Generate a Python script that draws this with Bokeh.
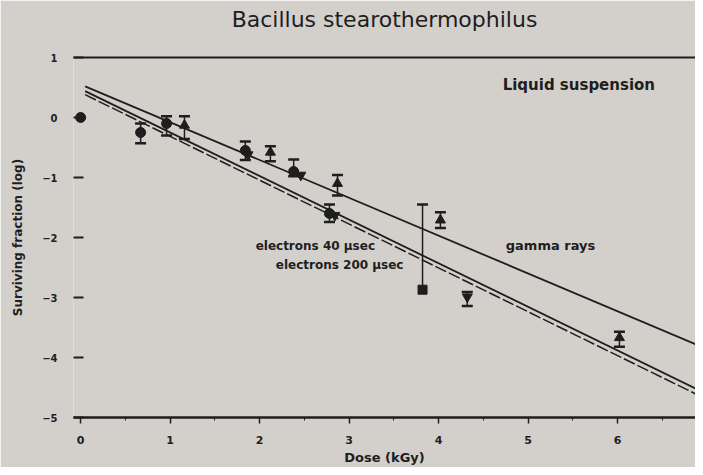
from bokeh.plotting import figure
from bokeh.models import (ColumnDataSource, Whisker, TeeHead, LinearAxis, Label,
                          FixedTicker, Range1d)
from bokeh.embed import file_html
from bokeh.resources import INLINE

# ---------------- data ----------------
title_text = "Bacillus stearothermophilus"
x_label = "Dose (kGy)"
y_label = "Surviving fraction (log)"

x_ticks = [0, 1, 2, 3, 4, 5, 6, 7]
x_minor_ticks = [0.5, 1.5, 2.5, 3.5, 4.5, 5.5, 6.5]
y_ticks = [1, 0, -1, -2, -3, -4, -5]
y_tick_labels = ["1", "0", "\u22121", "\u22122", "\u22123", "\u22124", "\u22125"]

# gamma rays (triangles)
gamma_dose = [1.16, 2.12, 2.87, 4.02, 6.02]
gamma_log = [-0.13, -0.58, -1.10, -1.71, -3.67]
gamma_upper = [0.02, -0.48, -0.96, -1.58, -3.57]
gamma_lower = [-0.36, -0.73, -1.30, -1.84, -3.82]

# electrons 40 usec (circles)
e40_dose = [0.0, 0.67, 0.96, 1.84, 2.38, 2.78]
e40_log = [0.0, -0.25, -0.10, -0.55, -0.90, -1.60]
e40_upper = [None, -0.10, 0.02, -0.40, -0.70, -1.45]
e40_lower = [None, -0.43, -0.30, -0.71, -0.98, -1.74]

# electrons 200 usec (inverted triangles)
e200_dose = [1.87, 2.46, 2.84, 4.32]
e200_log = [-0.62, -0.96, -1.63, -2.99]
e200_upper = [None, None, None, -2.91]
e200_lower = [None, None, None, -3.14]

# single point with large upper error (square)
sq_dose = [3.82]
sq_log = [-2.87]
sq_upper = [-1.45]

# fitted survival lines
fit_dose = [0.05, 7.0]
gamma_fit = [0.52, -3.86]
e40_fit = [0.44, -4.61]
e200_fit = [0.38, -4.70]

# ---------------- styling ----------------
bg = "#d3cfcb"
ink = "#1e1e1e"
font = "DejaVu Sans"

p = figure(width=695, height=467,
           x_range=Range1d(-0.08, 6.87), y_range=Range1d(-5, 1),
           output_backend="svg", toolbar_location=None,
           min_border_left=73, min_border_right=0,
           min_border_top=57, min_border_bottom=49,
           background_fill_color=bg, border_fill_color=bg,
           outline_line_color=None)
p.grid.visible = False

xa = p.below[0]
xa.ticker = FixedTicker(ticks=x_ticks, minor_ticks=x_minor_ticks)
xa.axis_line_color = ink
xa.axis_line_width = 2.5
xa.major_tick_line_color = ink
xa.major_tick_line_width = 1.5
xa.major_tick_in = 0
xa.major_tick_out = 6
xa.minor_tick_line_color = ink
xa.minor_tick_in = 0
xa.minor_tick_out = 3
xa.major_label_standoff = 12
xa.major_label_text_font = font
xa.major_label_text_font_style = "bold"
xa.major_label_text_font_size = "11px"
xa.major_label_text_color = ink
xa.axis_label = x_label
xa.axis_label_text_font = font
xa.axis_label_text_font_style = "bold"
xa.axis_label_text_font_size = "13px"
xa.axis_label_text_color = ink
xa.axis_label_standoff = 3

ya = p.left[0]
ya.ticker = FixedTicker(ticks=y_ticks)
ya.major_label_overrides = {t: s for t, s in zip(y_ticks, y_tick_labels)}
ya.axis_line_color = None
ya.major_tick_line_color = ink
ya.major_tick_line_width = 2
ya.major_tick_in = 10
ya.major_tick_out = 0
ya.minor_tick_line_color = None
ya.major_label_standoff = 16
ya.major_label_text_font = font
ya.major_label_text_font_style = "bold"
ya.major_label_text_font_size = "10px"
ya.major_label_text_color = ink
ya.axis_label = y_label
ya.axis_label_text_font = font
ya.axis_label_text_font_style = "bold"
ya.axis_label_text_font_size = "12px"
ya.axis_label_text_color = ink
ya.axis_label_standoff = 14

# top frame line, carrying the chart title
top = LinearAxis(ticker=FixedTicker(ticks=[]), axis_line_color=ink, axis_line_width=2,
                 major_tick_line_color=None, minor_tick_line_color=None,
                 major_tick_in=0, major_tick_out=0, minor_tick_in=0, minor_tick_out=0,
                 major_label_text_font_size="0px", major_label_standoff=0,
                 axis_label=title_text, axis_label_text_font=font,
                 axis_label_text_font_style="normal", axis_label_text_font_size="22px",
                 axis_label_text_color=ink, axis_label_standoff=26)
p.add_layout(top, "above")

# fitted lines
p.line(fit_dose, gamma_fit, line_color=ink, line_width=1.8)
p.line(fit_dose, e40_fit, line_color=ink, line_width=1.8)
p.line(fit_dose, e200_fit, line_color=ink, line_width=1.5, line_dash="12 3")


def add_whiskers(dose, upper, lower, lower_head=True):
    xs, us, ls = [], [], []
    for d, u, l in zip(dose, upper, lower):
        if u is None:
            continue
        xs.append(d)
        us.append(u)
        ls.append(l)
    src = ColumnDataSource(dict(x=xs, upper=us, lower=ls))
    w = Whisker(source=src, base="x", upper="upper", lower="lower", dimension="height",
                line_color=ink, line_width=1.5,
                upper_head=TeeHead(size=11, line_color=ink, line_width=2.5),
                lower_head=TeeHead(size=11, line_color=ink, line_width=2.5) if lower_head else None)
    p.add_layout(w)


add_whiskers(gamma_dose, gamma_upper, gamma_lower)
add_whiskers(e40_dose, e40_upper, e40_lower)
add_whiskers(e200_dose, e200_upper, e200_lower)
add_whiskers(sq_dose, sq_upper, sq_log, lower_head=False)

p.scatter(e40_dose, e40_log, marker="circle", size=10, color=ink)
p.scatter(e200_dose, e200_log, marker="inverted_triangle", size=10, color=ink)
p.scatter(gamma_dose, gamma_log, marker="triangle", size=10, color=ink)
p.scatter(sq_dose, sq_log, marker="square", size=9, color=ink)

# text annotations
def add_label(x, y, text, size="11px"):
    p.add_layout(Label(x=x, y=y, text=text, text_font=font, text_font_style="bold",
                       text_font_size=size, text_color=ink, text_baseline="middle"))


add_label(4.715, 0.55, "Liquid suspension", "15px")
add_label(1.955, -2.14, "electrons 40 \u00b5sec", "12px")
add_label(2.18, -2.46, "electrons 200 \u00b5sec", "12px")
add_label(4.75, -2.14, "gamma rays", "13px")

open("out.html", "w").write(file_html(p, INLINE))
